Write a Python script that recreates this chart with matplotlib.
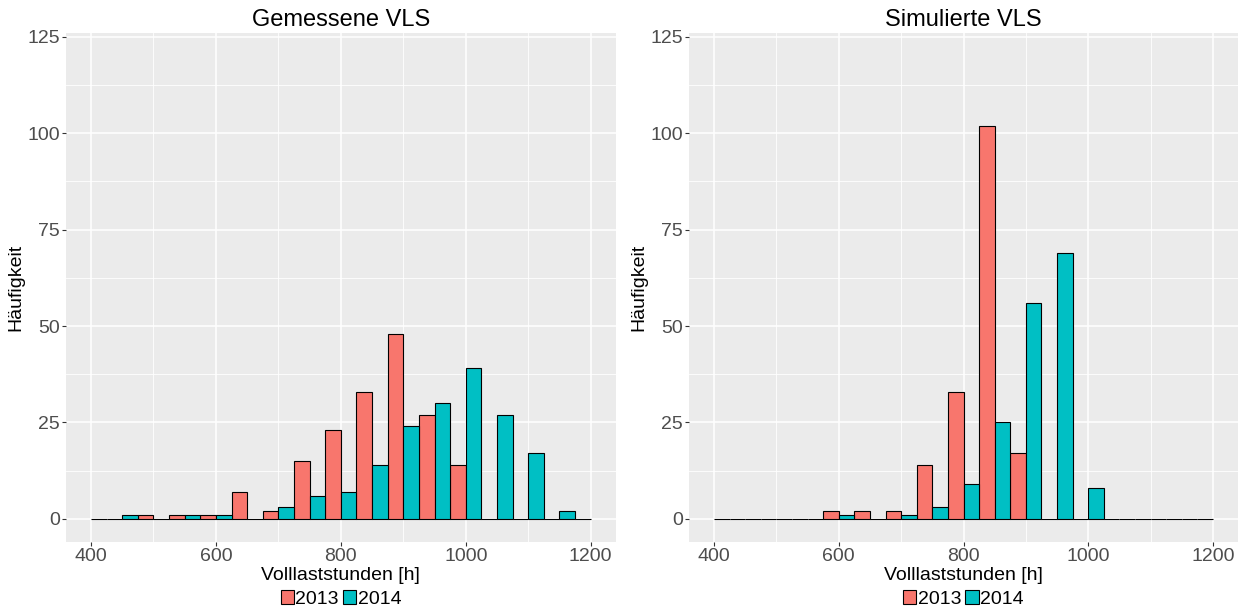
import numpy as np
import matplotlib
matplotlib.use('Agg')
import matplotlib.pyplot as plt
from matplotlib.ticker import MultipleLocator

plt.rcParams['font.family'] = ['Liberation Sans', 'DejaVu Sans']

# bin centres (width 50), 2013 left half, 2014 right half
centers = np.arange(400, 1201, 50)
mess_2013 = [0, 0, 1, 1, 1, 7, 2, 15, 23, 33, 48, 27, 14, 0, 0, 0, 0]
mess_2014 = [0, 1, 0, 1, 1, 0, 3, 6, 7, 14, 24, 30, 39, 27, 17, 2, 0]
sim_2013 = [0, 0, 0, 0, 2, 2, 2, 14, 33, 102, 17, 0, 0, 0, 0, 0, 0]
sim_2014 = [0, 0, 0, 0, 1, 0, 1, 3, 9, 25, 56, 69, 8, 0, 0, 0, 0]

titles = ['Gemessene VLS', 'Simulierte VLS']
years = ['2013', '2014']
colors = ['#F8766D', '#00BFC4']
x_lo, x_hi = 400, 1200
binw = 50

fig = plt.figure(figsize=(12.46, 6.10), dpi=100)
ax1 = fig.add_axes([66 / 1246, 68 / 610, 549.7 / 1246, 509 / 610])
ax2 = fig.add_axes([689 / 1246, 68 / 610, 549 / 1246, 509 / 610])


def draw_hist(ax, c2013, c2014, title):
    ax.set_facecolor('#EBEBEB')
    half = binw / 2
    for k, (counts, col, lab) in enumerate(zip([c2013, c2014], colors, years)):
        left = centers - half + k * half
        counts = np.array(counts)
        # only bars inside the data range
        keep = (left >= x_lo) & (left + half <= x_hi)
        ax.bar(left[keep], counts[keep], width=half, align='edge',
               color=col, edgecolor='black', linewidth=0.8, label=lab, zorder=3)

    ax.set_xlim(360, 1240)
    ax.set_ylim(-6, 126)
    ax.xaxis.set_major_locator(MultipleLocator(200))
    ax.xaxis.set_minor_locator(MultipleLocator(100))
    ax.yaxis.set_major_locator(MultipleLocator(25))
    ax.yaxis.set_minor_locator(MultipleLocator(12.5))
    ax.grid(which='major', color='white', linewidth=1.1, zorder=0)
    ax.grid(which='minor', color='white', linewidth=0.6, zorder=0)
    ax.set_axisbelow(True)
    for s in ax.spines.values():
        s.set_visible(False)
    ax.tick_params(which='major', length=3, width=0.8, color='#333333',
                   labelsize=14, labelcolor='#4D4D4D', pad=1.5)
    ax.tick_params(which='minor', length=0)

    ax.set_title(title, fontsize=17, color='black', pad=5)
    ax.set_xlabel('Volllaststunden [h]', fontsize=14, color='black', labelpad=1)
    ax.set_ylabel('Häufigkeit', fontsize=14, color='black', labelpad=2)

    ax.legend(loc='center', bbox_to_anchor=(0.5, -0.112), ncol=2, frameon=False,
              fontsize=14, handlelength=0.68, handleheight=0.68,
              handletextpad=0.08, columnspacing=0.2, borderpad=0, borderaxespad=0)


draw_hist(ax1, mess_2013, mess_2014, titles[0])
draw_hist(ax2, sim_2013, sim_2014, titles[1])

fig.savefig('out.png', dpi=100)
